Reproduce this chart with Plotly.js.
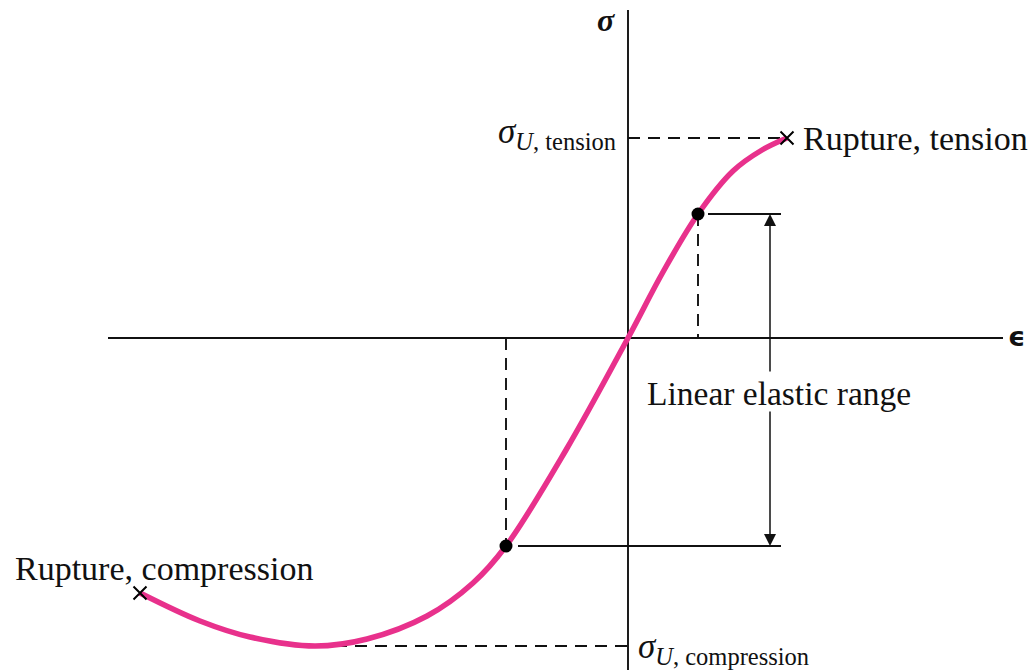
<!DOCTYPE html>
<html>
<head>
<meta charset="utf-8">
<script src="https://cdn.plot.ly/plotly-3.0.1.min.js"></script>
<style>html,body{margin:0;padding:0;background:#fff;}#chart{width:1030px;height:670px;}</style>
</head>
<body>
<div id="chart"></div>
<script>
// Stress-strain curve (arbitrary units)
const strain = [-4.88, -4.28, -3.78, -3.13, -2.61, -2.01, -1.55, -1.22, -0.62, 0.00, 0.35, 0.70, 1.05, 1.34, 1.59];
const stress = [-2.55, -2.83, -2.99, -3.08, -3.01, -2.78, -2.45, -2.08, -1.12, 0.00, 0.66, 1.24, 1.67, 1.88, 2.00];

const limitStrain = [0.70, -1.22];      // ends of linear elastic range
const limitStress = [1.24, -2.08];
const ruptureStrain = [1.59, -4.88];    // tension, compression
const ruptureStress = [2.00, -2.55];
const sigmaUTension = 2.00;
const sigmaUCompression = -3.08;
const strainAtSigmaUC = -3.13;

const axisStrainMin = -5.20, axisStrainMax = 3.75;
const axisStressMin = -3.40, axisStressMax = 3.28;
const rangeArrowStrain = 1.42;
const rangeLineEnd = 1.53;
const labelGapTop = -0.35, labelGapBottom = -0.72;

const serif = 'Liberation Serif, Times New Roman, serif';
const black = '#111';
const pink = '#E8318C';

const traces = [
  {x: strain, y: stress, mode: 'lines', line: {color: pink, width: 5.5, shape: 'spline', smoothing: 1}, hoverinfo: 'skip'},
  {x: limitStrain, y: limitStress, mode: 'markers', marker: {color: '#000', size: 13}, hoverinfo: 'skip'},
  {x: ruptureStrain, y: ruptureStress, mode: 'markers', marker: {symbol: 'x-thin', size: 13, line: {color: '#000', width: 2}}, hoverinfo: 'skip'}
];

const solid = {color: black, width: 1.9};
const dashed = {color: black, width: 1.9, dash: '12px,8px'};
function seg(x0, y0, x1, y1, line) {
  return {type: 'line', xref: 'x', yref: 'y', x0: x0, y0: y0, x1: x1, y1: y1, line: line, layer: 'below'};
}
const shapes = [
  seg(axisStrainMin, 0, axisStrainMax, 0, solid),
  seg(0, axisStressMin, 0, axisStressMax, solid),
  seg(0, sigmaUTension, ruptureStrain[0], sigmaUTension, dashed),
  seg(strainAtSigmaUC, sigmaUCompression, 0, sigmaUCompression, dashed),
  seg(limitStrain[0], limitStress[0], limitStrain[0], 0, dashed),
  seg(limitStrain[1], 0, limitStrain[1], limitStress[1], dashed),
  seg(limitStrain[0] + 0.10, limitStress[0], rangeLineEnd, limitStress[0], solid),
  seg(limitStrain[1] + 0.12, limitStress[1], rangeLineEnd, limitStress[1], solid)
];

const annotations = [
  {x: rangeArrowStrain, y: limitStress[0], ax: rangeArrowStrain, ay: labelGapTop, axref: 'x', ayref: 'y', xref: 'x', yref: 'y',
   text: '', showarrow: true, arrowhead: 2, arrowsize: 1.6, arrowwidth: 1.5, arrowcolor: black, standoff: 0},
  {x: rangeArrowStrain, y: limitStress[1], ax: rangeArrowStrain, ay: labelGapBottom, axref: 'x', ayref: 'y', xref: 'x', yref: 'y',
   text: '', showarrow: true, arrowhead: 2, arrowsize: 1.6, arrowwidth: 1.5, arrowcolor: black, standoff: 0},
  {x: 1.51, y: -0.55, xref: 'x', yref: 'y', text: 'Linear elastic range', showarrow: false,
   font: {family: serif, size: 33.5, color: black}, xanchor: 'center', yanchor: 'middle'},
  {x: 1.73, y: sigmaUTension, xref: 'x', yref: 'y', text: 'Rupture, tension', showarrow: false,
   font: {family: serif, size: 34, color: black}, xanchor: 'left', yanchor: 'middle'},
  {x: -6.15, y: -2.30, xref: 'x', yref: 'y', text: 'Rupture, compression', showarrow: false,
   font: {family: serif, size: 34, color: black}, xanchor: 'left', yanchor: 'middle'},
  {x: -0.10, y: sigmaUTension, xref: 'x', yref: 'y', yshift: 5, text: '<i>σ</i><sub><i>U</i>, tension</sub>', showarrow: false,
   font: {family: serif, size: 35, color: black}, xanchor: 'right', yanchor: 'middle'},
  {x: 0.08, y: sigmaUCompression, xref: 'x', yref: 'y', yshift: -2, text: '<i>σ</i><sub><i>U</i>, compression</sub>', showarrow: false,
   font: {family: serif, size: 35, color: black}, xanchor: 'left', yanchor: 'middle'},
  {x: -0.22, y: 3.18, xref: 'x', yref: 'y', text: '<b><i>σ</i></b>', showarrow: false,
   font: {family: serif, size: 32, color: black}, xanchor: 'center', yanchor: 'middle'},
  {x: 3.88, y: 0.02, xref: 'x', yref: 'y', text: '<b>ϵ</b>', showarrow: false,
   font: {family: 'DejaVu Sans, sans-serif', size: 27, color: black}, xanchor: 'center', yanchor: 'middle'}
];

const layout = {
  width: 1030, height: 670,
  margin: {l: 0, r: 0, t: 0, b: 0, pad: 0},
  paper_bgcolor: '#fff', plot_bgcolor: '#fff',
  showlegend: false,
  xaxis: {range: [-6.28, 4.02], visible: false, fixedrange: true},
  yaxis: {range: [-3.32, 3.38], visible: false, fixedrange: true},
  shapes: shapes,
  annotations: annotations
};

Plotly.newPlot('chart', traces, layout, {staticPlot: true, displayModeBar: false});
</script>
</body>
</html>
